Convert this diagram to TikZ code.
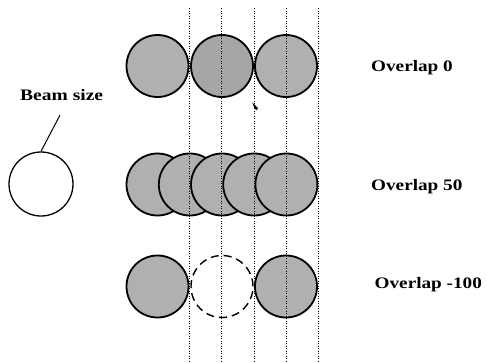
\documentclass[tikz,border=0pt]{standalone}
\usepackage{fontspec}
\setmainfont{Liberation Serif}
\usepackage{graphicx}
\begin{document}
\begin{tikzpicture}[x=1pt,y=-1pt,
  disc/.style={circle, draw=black, line width=1.8pt, fill=gray!62, minimum size=62pt, inner sep=0pt},
  darkdisc/.style={disc, fill=gray!70},
  ghost/.style={circle, draw=black, line width=1.4pt, dash pattern=on 8pt off 5pt, minimum size=62pt, inner sep=0pt},
  plain/.style={circle, draw=black, line width=1.3pt, minimum size=64pt, inner sep=0pt},
  guide/.style={line width=0.8pt, dash pattern=on 1pt off 1.5pt, black},
  lbl/.style={anchor=base west, inner sep=0pt, font=\bfseries\fontsize{16}{18}\selectfont}]
\useasboundingbox (0,0) rectangle (487,362);
% row 1: overlap 0
\node[disc] (a1) at (157.5,66) {};
\node[darkdisc] (a2) at (222,66) {};
\node[disc] (a3) at (286,66) {};
% row 2: overlap 50
\node[disc] (b1) at (157.5,184.5) {};
\node[disc] (b2) at (189.8,184.5) {};
\node[disc] (b3) at (222,184.5) {};
\node[disc] (b4) at (254.2,184.5) {};
\node[disc] (b5) at (286.4,184.5) {};
% row 3: overlap -100
\node[disc] (c1) at (157.5,286.5) {};
\node[ghost] (c2) at (222,286.5) {};
\node[disc] (c3) at (286,286.5) {};
% guide lines
\foreach \x/\n in {189.5/g1,221.8/g2,254/g3,286.2/g4,318.4/g5}{
  \coordinate (\n t) at (\x,8);
  \coordinate (\n b) at (\x,362);
  \draw[guide] (\n t) -- (\n b);
}
% small mark
\fill (252.3,102.5) -- (257.8,108) -- (257,110.2) -- (254.5,108.5) -- cycle;
% beam size
\node[plain] (beam) at (41,184) {};
\node[lbl] (bl) at (20,100) {\scalebox{1.22}[1]{Beam size}};
\coordinate (bt) at (60,115);
\draw[line width=1pt] (bt) -- (beam.north);
% labels
\node[lbl] (l0) at (371,71) {\scalebox{1.2}[1]{Overlap 0}};
\node[lbl] (l50) at (371,190) {\scalebox{1.2}[1]{Overlap 50}};
\node[lbl] (l100) at (374.5,288.5) {\scalebox{1.2}[1]{Overlap -100}};
\end{tikzpicture}
\end{document}
